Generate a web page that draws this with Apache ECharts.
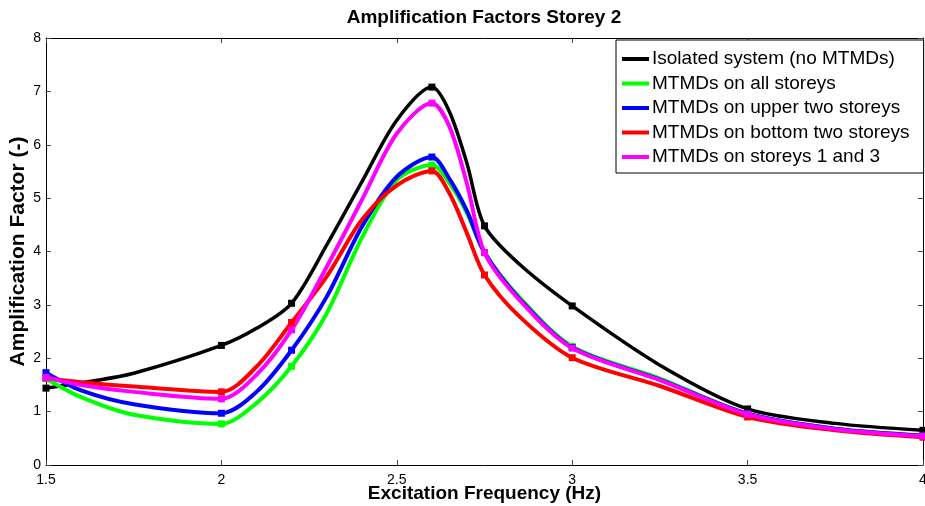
<!DOCTYPE html>
<html>
<head>
<meta charset="utf-8">
<script src="https://cdn.jsdelivr.net/npm/echarts@6/dist/echarts.min.js"></script>
<style>html,body{margin:0;padding:0;background:#fff}#c{width:925px;height:506px}</style>
</head>
<body>
<div id="c"></div>
<script>
// Frequencies with markers, and extra points (no markers)
const markFreq = [1.5, 2, 2.2, 2.6, 2.75, 3, 3.5, 4];
const midFreq = [1.6, 1.75, 2.1, 2.3, 2.4, 2.5, 2.65, 2.7, 2.85, 3.25, 3.75];

const seriesNames = [
  'Isolated system (no MTMDs)',
  'MTMDs on all storeys',
  'MTMDs on upper two storeys',
  'MTMDs on bottom two storeys',
  'MTMDs on storeys 1 and 3'
];

const isolatedMark = [1.44, 2.24, 3.03, 7.08, 4.48, 2.98, 1.05, 0.65];
const isolatedMid  = [1.54, 1.72, 2.56, 4.12, 5.30, 6.46, 6.62, 5.65, 3.76, 1.87, 0.78];

const allMark = [1.62, 0.77, 1.85, 5.62, 3.98, 2.22, 0.96, 0.55];
const allMid  = [1.27, 0.94, 1.16, 2.84, 4.25, 5.34, 5.28, 4.72, 3.14, 1.62, 0.68];

const upperMark = [1.73, 0.97, 2.15, 5.77, 3.98, 2.20, 0.96, 0.55];
const upperMid  = [1.40, 1.14, 1.37, 3.15, 4.46, 5.40, 5.36, 4.76, 3.11, 1.60, 0.68];

const bottomMark = [1.63, 1.37, 2.67, 5.51, 3.56, 2.01, 0.90, 0.52];
const bottomMid  = [1.55, 1.47, 1.84, 3.53, 4.59, 5.24, 5.09, 4.34, 2.78, 1.48, 0.65];

const s13Mark = [1.64, 1.24, 2.53, 6.78, 3.98, 2.19, 0.95, 0.54];
const s13Mid  = [1.50, 1.37, 1.69, 3.71, 4.96, 6.21, 6.34, 5.27, 3.09, 1.59, 0.67];

const xTicks = [1.5, 2, 2.5, 3, 3.5, 4];
const yTicks = [0, 1, 2, 3, 4, 5, 6, 7, 8];

const colors = ['#000000', '#00ff00', '#0000ff', '#ff0000', '#ff00ff'];
const widths = [3.5, 4, 4, 4, 4];
const marks = [isolatedMark, allMark, upperMark, bottomMark, s13Mark];
const mids = [isolatedMid, allMid, upperMid, bottomMid, s13Mid];

function buildData(mk, md) {
  const pts = [];
  markFreq.forEach((f, i) => pts.push({ value: [f, mk[i]] }));
  midFreq.forEach((f, i) => pts.push({ value: [f, md[i]], symbol: 'none' }));
  pts.sort((a, b) => a.value[0] - b.value[0]);
  return pts;
}

const FONT = 'Liberation Sans, Arial, sans-serif';
const chart = echarts.init(document.getElementById('c'), null, { renderer: 'canvas' });

const axisCommon = {
  axisLine: { show: true, onZero: false, lineStyle: { color: '#000', width: 1 } },
  axisTick: { show: true, inside: true, length: 5, lineStyle: { color: '#444' } },
  splitLine: { show: false }
};

chart.setOption({
  animation: false,
  backgroundColor: '#fff',
  title: {
    text: 'Amplification Factors Storey 2',
    left: 484, top: 8, textAlign: 'center', padding: 0,
    textStyle: { fontFamily: FONT, fontWeight: 'bold', fontSize: 19, color: '#000' }
  },
  grid: { left: 46, right: 2, top: 38, bottom: 41, containLabel: false, outerBoundsMode: 'none' },
  legend: {
    orient: 'vertical', left: 616, top: 40,
    padding: [8, 14, 5, 6],
    itemGap: 2.5, itemWidth: 27, itemHeight: 4,
    backgroundColor: '#fff', borderColor: '#000', borderWidth: 1,
    icon: 'rect',
    textStyle: { fontFamily: FONT, fontSize: 19, color: '#000', lineHeight: 22, padding: [0, 0, 0, -2] },
    data: seriesNames
  },
  xAxis: [
    Object.assign({
      type: 'value', min: 1.5, max: 4, interval: 0.5, position: 'bottom',
      name: 'Excitation Frequency (Hz)', nameLocation: 'middle', nameGap: 19, nameMoveOverlap: false,
      nameTextStyle: { fontFamily: FONT, fontWeight: 'bold', fontSize: 19, color: '#000' },
      axisLabel: { fontFamily: FONT, fontSize: 14, color: '#000', margin: 8,
        formatter: v => xTicks.includes(+v.toFixed(2)) ? String(v) : '' }
    }, axisCommon),
    Object.assign({
      type: 'value', min: 1.5, max: 4, interval: 0.5, position: 'top',
      axisLabel: { show: false }
    }, axisCommon)
  ],
  yAxis: [
    Object.assign({
      type: 'value', min: 0, max: 8, interval: 1, position: 'left',
      name: 'Amplification Factor (-)', nameLocation: 'middle', nameGap: 17, nameMoveOverlap: false,
      nameTextStyle: { fontFamily: FONT, fontWeight: 'bold', fontSize: 21, color: '#000' },
      axisLabel: { fontFamily: FONT, fontSize: 14, color: '#000', margin: 5,
        formatter: v => yTicks.includes(v) ? String(v) : '' }
    }, axisCommon),
    Object.assign({
      type: 'value', min: 0, max: 8, interval: 1, position: 'right',
      axisLabel: { show: false }
    }, axisCommon)
  ],
  series: seriesNames.map((name, i) => ({
    name, type: 'line', xAxisIndex: 0, yAxisIndex: 0,
    smooth: 0.3,
    data: buildData(marks[i], mids[i]),
    symbol: 'rect', symbolSize: 7, showAllSymbol: true,
    lineStyle: { color: colors[i], width: widths[i] },
    itemStyle: { color: colors[i] },
    emphasis: { disabled: true }
  }))
});
</script>
</body>
</html>
